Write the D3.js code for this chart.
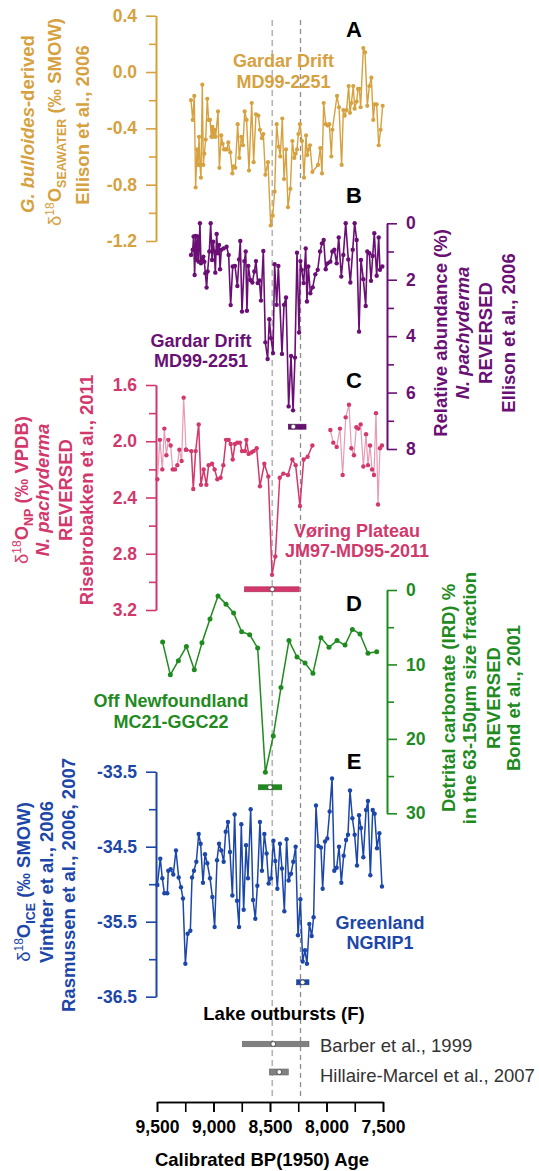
<!DOCTYPE html>
<html><head><meta charset="utf-8">
<script src="https://cdn.jsdelivr.net/npm/d3@7"></script>
<style>body{margin:0;background:#fff}svg{display:block}</style>
</head><body>
<script>
// ---------------- DATA ----------------
const xTicks = [9500, 9250, 9000, 8750, 8500, 8250, 8000, 7750, 7500];
const xTickLabels = [9500, 9000, 8500, 8000, 7500];
const eventAges = [8480, 8230];

// A: G. bulloides-derived d18O seawater (Ellison et al., 2006)
const ageA = [9199,9184,9170,9158,9146,9137,9128,9120,9111,9099,9090,9081,9069,9055,9043,9031,9019,9010,9002,8990,8981,8960,8948,8931,8919,8907,8895,8881,8869,8851,8833,8822,8807,8786,8771,8754,8739,8724,8707,8686,8662,8645,8624,8603,8589,8571,8559,8541,8518,8494,8476,8459,8441,8423,8409,8391,8376,8358,8341,8320,8302,8285,8273,8261,8249,8235,8217,8199,8181,8170,8158,8146,8125,8075,8055,8040,8025,8007,7990,7975,7957,7948,7907,7889,7866,7851,7839,7822,7804,7792,7780,7763,7751,7733,7721,7709,7698,7674,7659,7639,7621,7603,7586,7574,7556,7538,7521,7503];
const d18Osw = [-0.20,-0.34,-0.17,-0.82,-0.55,-0.66,-0.46,-0.66,-0.75,-0.09,-0.66,-0.58,-0.48,-0.19,-0.34,-0.34,-0.46,-0.39,-0.46,-0.41,-0.46,-0.28,-0.68,-0.45,-0.51,-0.55,-0.55,-0.55,-0.50,-0.57,-0.72,-0.67,-0.68,-0.37,-0.61,-0.46,-0.52,-0.28,-0.34,-0.70,-0.22,-0.64,-0.30,-0.31,-0.41,-0.47,-0.44,-0.73,-0.64,-1.09,-1.02,-0.85,-0.37,-0.53,-0.60,-0.33,-0.76,-0.55,-0.96,-0.83,-0.49,-0.61,-0.58,-0.55,-0.44,-0.37,-0.49,-0.75,-0.45,-0.59,-0.55,-0.52,-0.71,-0.66,-0.54,-0.72,-0.22,-0.37,-0.38,-0.37,-0.60,-0.41,-0.17,-0.25,-0.66,-0.27,-0.31,-0.27,-0.10,-0.29,-0.22,-0.10,-0.26,-0.21,-0.12,-0.12,-0.25,0.17,0.14,-0.24,-0.10,-0.04,-0.34,-0.23,-0.23,-0.52,-0.41,-0.24];

// B: N. pachyderma relative abundance (%), reversed
const ageB = [9199,9184,9176,9167,9158,9149,9140,9131,9120,9111,9099,9090,9081,9072,9061,9052,9037,9025,9013,9002,8993,8984,8972,8963,8951,8942,8931,8910,8884,8866,8848,8830,8810,8789,8774,8763,8748,8727,8715,8704,8692,8674,8656,8639,8624,8609,8594,8580,8559,8541,8521,8506,8491,8473,8459,8441,8426,8394,8376,8358,8335,8314,8296,8279,8261,8243,8231,8220,8202,8184,8173,8161,8143,8122,8099,8078,8057,8040,8025,8007,7990,7966,7948,7931,7910,7892,7869,7851,7830,7807,7789,7768,7751,7733,7712,7695,7674,7653,7639,7621,7606,7591,7577,7556,7538,7527,7506];
const npAbund = [1.12,0.94,0.47,1.83,0.45,1.30,0.47,1.36,0.00,1.42,1.28,1.18,1.36,1.77,2.28,1.71,1.00,0.00,1.30,0.65,1.00,1.75,0.38,1.06,0.77,1.63,0.94,0.89,0.83,1.12,2.90,1.53,1.51,2.22,1.28,0.63,3.13,1.34,1.00,3.10,1.51,2.01,2.10,1.71,1.34,2.12,2.03,2.74,0.98,4.22,4.81,3.40,4.07,4.60,1.45,2.89,1.51,4.63,2.89,2.63,6.49,4.70,6.63,4.76,1.04,3.87,1.34,1.65,2.12,0.89,2.77,1.53,2.48,2.27,1.81,1.65,1.00,0.71,0.59,1.63,1.42,1.36,1.00,0.94,1.42,0.50,1.89,1.12,0.00,1.28,2.10,0.94,0.00,0.59,3.84,1.30,1.98,2.93,1.00,1.06,2.04,1.16,0.35,1.86,0.50,1.65,1.53];

// C: d18O N. pachyderma, Voring Plateau (reversed)
const ageC1 = [9497,9474,9453,9435,9417,9400,9379,9361,9341,9320,9302,9282,9264,9243];
const d18Onp1 = [2.27,1.99,2.20,1.91,2.10,1.99,2.03,2.20,2.20,2.17,2.06,2.14,1.69,2.06];
const ageC2 = [9243,9196,9179,9158,9131,9111,9087,9063,9043,9013,8990,8966,8937,8913,8889,8866,8848,8830,8810,8789,8766,8748,8721,8709,8689,8665,8645,8618,8589,8550,8515,8482,8453,8414,8382,8341,8302,8273,8235,8202,8167,8125];
const d18Onp2 = [2.06,2.07,2.34,2.07,1.88,2.31,2.20,2.31,2.17,2.16,2.20,2.27,2.26,2.17,1.99,1.99,2.02,2.13,2.02,2.01,2.01,2.07,2.07,1.99,2.09,2.08,2.07,2.05,2.32,2.16,2.25,2.95,2.82,2.26,2.23,2.24,2.13,2.17,2.46,2.13,2.11,2.03];
const ageC3 = [7966,7940,7910,7881,7857,7830,7801,7780,7757,7736,7718,7698,7674,7650,7633,7615,7597,7580,7562,7544,7527,7509];
const d18Onp3 = [1.92,2.01,2.04,1.91,2.24,1.83,1.74,2.05,2.10,1.90,1.91,1.88,2.18,1.95,2.17,2.03,2.20,2.24,1.80,2.45,2.05,2.03];

// D: detrital carbonate (IRD) %, reversed
const ageD = [9450,9382,9311,9240,9170,9102,9031,8960,8889,8822,8751,8680,8609,8541,8471,8403,8332,8261,8190,8120,8049,7978,7907,7836,7771,7704,7633,7556];
const irdPct = [7.0,11.4,9.5,7.6,10.7,7.1,3.9,0.8,1.9,3.1,5.6,6.0,7.8,24.5,19.6,13.1,6.8,9.0,9.8,11.2,6.4,7.7,6.8,7.4,5.3,5.9,8.5,8.3];

// E: NGRIP1 d18O ice
const ageE = [9497,9471,9453,9435,9409,9400,9379,9356,9332,9308,9288,9270,9249,9229,9205,9190,9173,9152,9131,9114,9093,9075,9055,9031,9010,8990,8969,8951,8931,8910,8892,8872,8854,8833,8813,8792,8774,8754,8733,8712,8695,8671,8650,8630,8612,8589,8571,8550,8530,8512,8491,8470,8453,8435,8412,8394,8373,8353,8335,8314,8294,8273,8252,8231,8211,8190,8173,8152,8131,8114,8093,8072,8049,8034,8013,7993,7972,7951,7931,7910,7889,7869,7848,7827,7810,7792,7771,7751,7730,7712,7695,7674,7650,7633,7612,7591,7574,7553,7532,7509];
const d18Oice = [-35.01,-34.66,-34.92,-35.12,-35.12,-34.82,-34.80,-34.87,-34.55,-34.91,-35.04,-35.19,-36.06,-35.66,-35.62,-34.91,-34.82,-34.70,-34.33,-34.46,-34.98,-34.60,-34.72,-34.92,-35.17,-35.57,-34.68,-34.46,-34.55,-34.70,-34.30,-34.17,-34.57,-35.15,-34.07,-35.22,-35.57,-34.20,-35.34,-34.48,-34.92,-34.00,-35.21,-35.46,-35.02,-34.17,-34.82,-34.33,-34.59,-34.99,-34.92,-34.42,-34.69,-35.06,-34.46,-34.79,-35.36,-34.40,-34.95,-34.86,-34.70,-34.50,-35.68,-35.20,-36.03,-35.88,-36.06,-35.53,-35.69,-35.44,-33.95,-34.49,-34.51,-35.06,-34.43,-34.39,-34.03,-33.59,-34.82,-34.78,-34.50,-34.98,-34.62,-34.41,-34.34,-33.75,-34.12,-34.34,-34.75,-34.08,-34.25,-34.64,-34.01,-33.89,-34.88,-34.01,-34.06,-34.52,-34.32,-35.03];

// Age-model / event uncertainty bars: [older, central, younger]
const errB = [8338, 8294, 8181];
const errC = [8727, 8480, 8241];
const errD = [8603, 8500, 8396];
const errE = [8264, 8211, 8155];
const outburstNames = ["Barber et al., 1999", "Hillaire-Marcel et al., 2007"];
const outburstAges = [[8745, 8471, 8155], [8506, 8418, 8338]];

// ---------------- DRAWING ----------------
const W = 539, H = 1171;
const FONT = "'Liberation Sans', Arial, Helvetica, sans-serif";
const cA = "#D6A13F", cB = "#6A0F74", cC = "#D2386C", cClight = "#E99AB6", cD = "#1F8B1F", cE = "#1C47A8";

const svg = d3.select("body").append("svg").attr("width", W).attr("height", H)
  .style("font-family", FONT);
svg.append("rect").attr("width", W).attr("height", H).attr("fill", "#fff");

const x = d3.scaleLinear().domain([9500, 7500]).range([157, 383]);
const yA = d3.scaleLinear().domain([0.4, -1.2]).range([15.7, 241]);
const yB = d3.scaleLinear().domain([0, 8]).range([223.3, 449]);
const yC = d3.scaleLinear().domain([1.6, 3.2]).range([385, 610]);
const yD = d3.scaleLinear().domain([0, 30]).range([590, 813.3]);
const yE = d3.scaleLinear().domain([-33.5, -36.5]).range([771.7, 996.7]);

const hyph = s => s.replace(/\u2212/g, "-");

// dashed event lines
svg.append("line").attr("x1", x(eventAges[0])).attr("x2", x(eventAges[0])).attr("y1", 20).attr("y2", 1098)
  .attr("stroke", "#b5b5b5").attr("stroke-width", 1.6).attr("stroke-dasharray", "6,4");
svg.append("line").attr("x1", x(eventAges[1])).attr("x2", x(eventAges[1])).attr("y1", 20).attr("y2", 1098)
  .attr("stroke", "#8c8c8c").attr("stroke-width", 1.3).attr("stroke-dasharray", "5,4");

function yaxis(scale, side, ax, major, minor, fmt, color) {
  const g = svg.append("g").attr("transform", `translate(${ax},0)`);
  const mk = side === "left" ? d3.axisLeft : d3.axisRight;
  g.call(mk(scale).tickValues(minor).tickSize(7).tickSizeOuter(0).tickFormat(""));
  const g2 = svg.append("g").attr("transform", `translate(${ax},0)`);
  g2.call(mk(scale).tickValues(major).tickSize(10).tickSizeOuter(0).tickPadding(side === "left" ? 9 : 9).tickFormat(d => hyph(fmt(d))));
  [g, g2].forEach(gg => {
    gg.selectAll("path,line").attr("stroke", color).attr("stroke-width", 1.6);
    gg.selectAll("text").attr("fill", color).attr("font-family", FONT).attr("font-size", 17.5).attr("font-weight", "bold");
  });
}
yaxis(yA, "left", 156, [0.4, 0, -0.4, -0.8, -1.2], [0.2, -0.2, -0.6, -1.0], d3.format(".1f"), cA);
yaxis(yB, "right", 387, [0, 2, 4, 6, 8], [1, 3, 5, 7], d3.format("d"), cB);
yaxis(yC, "left", 156, [1.6, 2.0, 2.4, 2.8, 3.2], [1.8, 2.2, 2.6, 3.0], d3.format(".1f"), cC);
yaxis(yD, "right", 387, [0, 10, 20, 30], [5, 15, 25], d3.format("d"), cD);
yaxis(yE, "left", 156, [-33.5, -34.5, -35.5, -36.5], [-34, -35, -36], d3.format(".1f"), cE);

// x axis
const gx = svg.append("g").attr("transform", "translate(0,1102)");
gx.call(d3.axisBottom(x).tickValues(xTicks).tickSize(10).tickSizeOuter(0).tickFormat(""));
const gx2 = svg.append("g").attr("transform", "translate(0,1102)");
gx2.call(d3.axisBottom(x).tickValues(xTickLabels).tickSize(10).tickSizeOuter(0).tickPadding(9).tickFormat(d3.format(",")));
[gx, gx2].forEach(g => {
  g.selectAll("path,line").attr("stroke", "#000").attr("stroke-width", 1.6);
  g.selectAll("text").attr("fill", "#000").attr("font-family", FONT).attr("font-size", 17.5).attr("font-weight", "bold");
});
svg.append("text").attr("x", 262).attr("y", 1166).attr("text-anchor", "middle")
  .attr("font-size", 18.5).attr("font-weight", "bold").text("Calibrated BP(1950) Age");

// series
function series(ages, vals, y, lineColor, dotColor, lw, r) {
  const pts = ages.map((a, i) => [a, vals[i]]);
  svg.append("path").datum(pts)
    .attr("d", d3.line().x(d => x(d[0])).y(d => y(d[1])))
    .attr("fill", "none").attr("stroke", lineColor).attr("stroke-width", lw).attr("stroke-linejoin", "round");
  svg.append("g").selectAll("circle").data(pts).join("circle")
    .attr("cx", d => x(d[0])).attr("cy", d => y(d[1])).attr("r", r).attr("fill", dotColor);
}
series(ageA, d18Osw, yA, cA, cA, 1.4, 2.1);
series(ageB, npAbund, yB, cB, cB, 1.6, 2.2);
series(ageC1, d18Onp1, yC, cClight, cC, 1.2, 2.2);
series(ageC2, d18Onp2, yC, cC, cC, 1.5, 2.2);
series(ageC3, d18Onp3, yC, cClight, cC, 1.2, 2.2);
series(ageD, irdPct, yD, cD, cD, 1.5, 2.5);
series(ageE, d18Oice, yE, cE, cE, 1.5, 2.2);

// error bars
function errbar(e, yc, color, h) {
  svg.append("rect").attr("x", x(e[0])).attr("width", x(e[2]) - x(e[0])).attr("y", yc - h / 2).attr("height", h)
    .attr("fill", color).attr("stroke", d3.color(color).darker(0.6)).attr("stroke-width", 0.6);
  svg.append("circle").attr("cx", x(e[1])).attr("cy", yc).attr("r", 2.4).attr("fill", "#fff")
    .attr("stroke", "#333").attr("stroke-width", 0.7);
}
errbar(errB, 426.7, cB, 5);
errbar(errC, 589.3, cC, 5);
errbar(errD, 787.3, cD, 5);
errbar(errE, 982.3, cE, 5);
errbar(outburstAges[0], 1044, "#808080", 5.5);
errbar(outburstAges[1], 1072, "#808080", 6);

// outburst texts
svg.append("text").attr("x", 284).attr("y", 1020).attr("text-anchor", "middle")
  .attr("font-size", 18.5).attr("font-weight", "bold").text("Lake outbursts (F)");
svg.append("text").attr("x", 320).attr("y", 1051.5).attr("font-size", 18.5).attr("fill", "#333").text(outburstNames[0]);
svg.append("text").attr("x", 320).attr("y", 1082).attr("font-size", 18.5).attr("fill", "#333").text(outburstNames[1]);

// panel letters
[["A", 36.7], ["B", 203], ["C", 388], ["D", 610.5], ["E", 769]].forEach(([t, yy]) => {
  svg.append("text").attr("x", 354).attr("y", yy).attr("text-anchor", "middle")
    .attr("font-size", 22).attr("font-weight", "bold").text(t);
});

// site labels
function site(lines, cx, ys, color) {
  lines.forEach((t, i) => svg.append("text").attr("x", cx).attr("y", ys[i]).attr("text-anchor", "middle")
    .attr("font-size", 18).attr("font-weight", "bold").attr("fill", color).text(t));
}
site(["Gardar Drift", "MD99-2251"], 283.5, [66.7, 88.3], cA);
site(["Gardar Drift", "MD99-2251"], 201, [346.7, 367], cB);
site(["Vøring Plateau", "JM97-MD95-2011"], 357, [536.7, 556.7], cC);
site(["Off Newfoundland", "MC21-GGC22"], 171, [706.7, 727.7], cD);
site(["Greenland", "NGRIP1"], 380, [929, 949.3], cE);

// rotated axis titles
function vtitle(bx, cy, parts, color) {
  const t = svg.append("text").attr("transform", `translate(${bx},${cy}) rotate(-90)`)
    .attr("text-anchor", "middle").attr("font-size", 18.5).attr("font-weight", "bold").attr("fill", color);
  parts.forEach(p => {
    if (typeof p === "string") p = { t: p };
    const s = t.append("tspan").text(p.t);
    if (p.size) s.attr("font-size", p.size);
    if (p.dy) s.attr("dy", p.dy);
    if (p.it) s.attr("font-style", "italic");
    if (p.w) s.attr("font-weight", p.w);
  });
}
const iso = (sub) => [{ t: "\u03b4", w: "normal" }, { t: "18", size: 12, dy: -7, w: "normal" }, { t: "O", dy: 7 }, { t: sub, size: 12.5, dy: 5 }];
// A
vtitle(34, 124, [{ t: "G. bulloides", it: true }, "-derived"], cA);
vtitle(61, 122, [...iso("SEAWATER"), { t: " (\u2030 SMOW)", dy: -5 }], cA);
vtitle(88.5, 125, ["Ellison et al., 2006"], cA);
// B
vtitle(447, 333, ["Relative abundance (%)"], cB);
vtitle(469, 333, [{ t: "N. pachyderma", it: true }], cB);
vtitle(492, 333, ["REVERSED"], cB);
vtitle(515, 333, ["Ellison et al., 2006"], cB);
// C
vtitle(28, 490, [...iso("NP"), { t: "  (\u2030 VPDB)", dy: -5 }], cC);
vtitle(49, 490, [{ t: "N. pachyderma", it: true }], cC);
vtitle(72, 490, ["REVERSED"], cC);
vtitle(93, 490, ["Risebrobakken et al., 2011"], cC);
// D
vtitle(455, 698, ["Detrital carbonate (IRD) %"], cD);
vtitle(476, 698, ["in the 63-150\u00b5m size fraction"], cD);
vtitle(500, 698, ["REVERSED"], cD);
vtitle(520, 698, ["Bond et al., 2001"], cD);
// E
vtitle(30, 882, [...iso("ICE"), { t: "  (\u2030 SMOW)", dy: -5 }], cE);
vtitle(53, 882, ["Vinther et al., 2006"], cE);
vtitle(75, 885, ["Rasmussen et al., 2006, 2007"], cE);
</script>
</body></html>
